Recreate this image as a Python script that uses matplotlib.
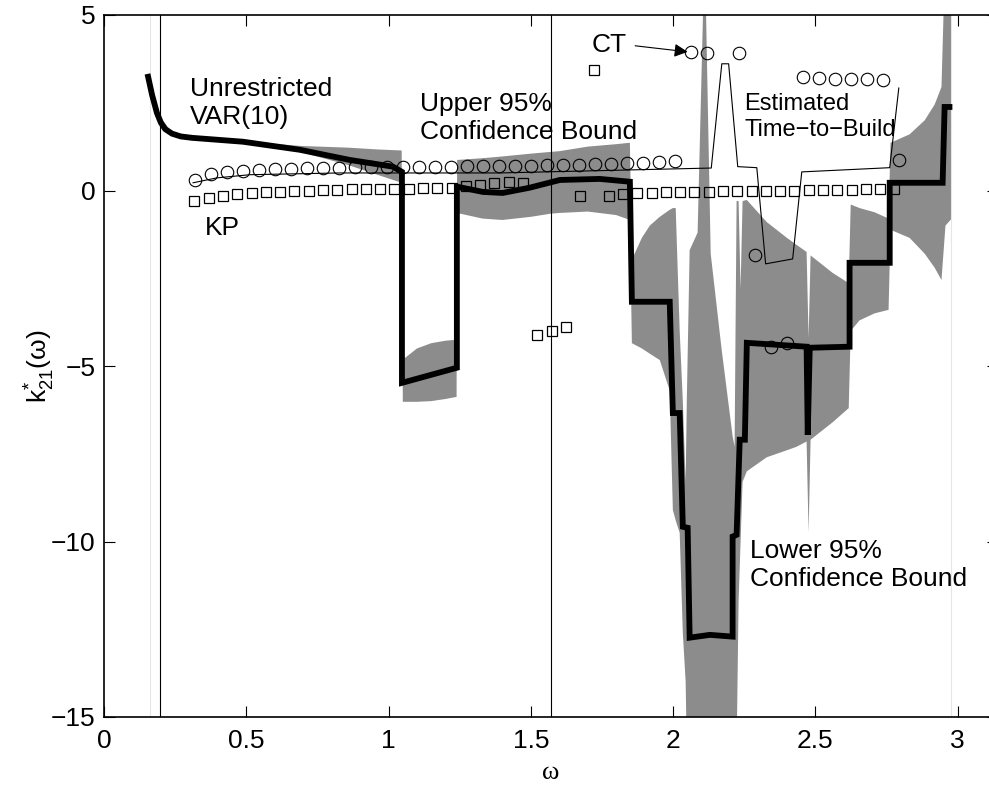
import numpy as np
import matplotlib
matplotlib.use("Agg")
import matplotlib.pyplot as plt

plt.rcParams['font.family'] = ['Liberation Sans', 'DejaVu Sans']
plt.rcParams['mathtext.fontset'] = 'custom'
plt.rcParams['mathtext.rm'] = 'Liberation Sans'
plt.rcParams['mathtext.it'] = 'Liberation Sans'

# unrestricted VAR(10) estimate (thick line)
var_w = [0.155, 0.169, 0.186, 0.200, 0.215, 0.239, 0.270, 0.310, 0.488, 0.688, 0.864, 1.015, 1.047,
         1.047, 1.240, 1.240, 1.331, 1.401, 1.496, 1.602, 1.742, 1.848,
         1.855, 1.988, 1.999, 2.023, 2.034, 2.051, 2.058, 2.129, 2.209,
         2.209, 2.223, 2.234, 2.252, 2.259, 2.469, 2.473, 2.480, 2.620,
         2.620, 2.761, 2.761, 2.947, 2.954, 2.971]
var_k = [3.24, 2.72, 2.21, 1.93, 1.75, 1.62, 1.54, 1.50, 1.39, 1.16, 0.87, 0.68, 0.53,
         -5.48, -5.05, 0.11, -0.04, -0.07, 0.08, 0.30, 0.33, 0.25,
         -3.17, -3.17, -6.34, -6.34, -9.58, -9.61, -12.74, -12.66, -12.71,
         -9.86, -9.81, -7.10, -7.10, -4.34, -4.45, -6.96, -4.48, -4.45,
         -2.06, -2.06, 0.22, 0.22, 2.38, 2.38]

# 95% confidence band (upper / lower bound)
band_w = [0.155, 0.186, 0.239, 0.310, 0.49, 0.69, 0.86, 0.96, 1.046,
          1.050, 1.10, 1.15, 1.20, 1.239,
          1.241, 1.33, 1.40, 1.50, 1.57, 1.60, 1.70, 1.80, 1.848,
          1.855, 1.890, 1.918, 1.953, 1.988, 1.999, 2.009, 2.023, 2.034, 2.044,
          2.048, 2.058, 2.086, 2.111, 2.132, 2.170, 2.209, 2.216, 2.223, 2.230,
          2.237, 2.244, 2.259, 2.329, 2.400, 2.434, 2.469, 2.476, 2.483, 2.561,
          2.617, 2.624, 2.655, 2.708, 2.757, 2.764, 2.831, 2.884, 2.919, 2.943,
          2.957, 2.979]
band_hi = [3.26, 2.23, 1.64, 1.52, 1.40, 1.27, 1.22, 1.17, 1.14,
           -4.82, -4.50, -4.35, -4.28, -4.25,
           0.87, 0.92, 0.97, 1.05, 1.10, 1.12, 1.25, 1.32, 1.36,
           -1.97, -1.35, -1.00, -0.75, -0.55, -0.50, -0.50, -4.00, -6.00, -8.30,
           -6.00, -1.70, -1.20, 7.00, -1.80, -4.50, -7.00, -7.30, -0.30, -0.30,
           -2.80, -0.30, -0.27, -0.90, -1.35, -1.55, -1.75, -4.20, -1.85, -2.35,
           -2.64, -0.40, -0.50, -0.62, -0.80, 1.36, 1.60, 2.00, 2.45, 2.95,
           7.00, 7.00]
band_lo = [3.22, 2.19, 1.60, 1.48, 1.38, 1.10, 0.72, 0.45, 0.22,
           -6.02, -6.02, -6.00, -5.94, -5.88,
           -0.64, -0.80, -0.84, -0.75, -0.66, -0.64, -0.60, -0.70, -0.84,
           -4.35, -4.50, -4.65, -4.83, -5.70, -9.10, -9.40, -9.75, -12.60, -14.00,
           -16.00, -16.00, -16.00, -16.00, -16.00, -16.00, -16.00, -16.00, -16.00, -11.70,
           -10.00, -8.30, -8.00, -7.60, -7.40, -7.30, -7.15, -9.75, -7.10, -6.60,
           -6.20, -4.00, -3.70, -3.50, -3.40, -1.12, -1.35, -1.80, -2.20, -2.55,
           -1.00, -0.80]

# estimated time-to-build (thin line)
ttb_w = [0.313, 0.397, 0.513, 0.829, 1.391, 2.134, 2.171, 2.195, 2.227, 2.294,
         2.325, 2.420, 2.452, 2.761, 2.793]
ttb_k = [0.22, 0.36, 0.45, 0.50, 0.50, 0.64, 3.61, 3.61, 0.68, 0.65,
         -2.09, -1.95, 0.53, 0.65, 2.92]

# CT (circles)
ct_w0, ct_dw = 0.32, 0.0562
ct_k = [0.30, 0.47, 0.52, 0.55, 0.58, 0.60, 0.62, 0.63, 0.64, 0.65,
        0.66, 0.66, 0.67, 0.67, 0.68, 0.68, 0.68, 0.69, 0.69, 0.70,
        0.70, 0.71, 0.72, 0.73, 0.74, 0.75, 0.76, 0.77, 0.79, 0.82,
        0.85, 3.95, 3.93, np.nan, 3.91, -1.83, -4.46, -4.35, 3.22, 3.20,
        3.19, 3.18, 3.17, 3.15, 0.87]

# KP (squares)
kp_w0, kp_dw = 0.318, 0.0502
kp_k = [-0.31, -0.22, -0.15, -0.09, -0.06, -0.05, -0.03, -0.01, 0.00, 0.01,
        0.02, 0.03, 0.04, 0.04, 0.05, 0.05, 0.06, 0.07, 0.08, 0.12,
        0.15, 0.22, 0.25, 0.21, -4.11, -3.99, -3.90, -0.17, 3.42, -0.15,
        -0.09, -0.07, -0.06, -0.05, -0.03, -0.03, -0.03, -0.02, -0.02, -0.01,
        -0.01, 0.00, 0.00, 0.01, 0.01, 0.02, 0.02, 0.03, 0.03, 0.03]

# business cycle frequencies
bc_lines = [2 * np.pi / 32, 2 * np.pi / 4]

ct_w = ct_w0 + ct_dw * np.arange(len(ct_k))
kp_w = kp_w0 + kp_dw * np.arange(len(kp_k))

fig = plt.figure(figsize=(9.89, 7.89), dpi=100)
ax = fig.add_axes([104 / 989, 72 / 789, (998 - 104) / 989, (717 - 15) / 789])

ax.fill_between(band_w, band_lo, band_hi, color='#8c8c8c', lw=0)
for w in [0.163, 2.978]:
    ax.axvline(w, color='#e6e6e6', lw=0.8)
for w in bc_lines:
    ax.axvline(w, color='k', lw=0.8)

ax.plot(ttb_w, ttb_k, color='k', lw=0.8)
ax.plot(var_w, var_k, color='k', lw=4.2, solid_joinstyle='miter')
ax.plot(ct_w, ct_k, 'o', mfc='none', mec='k', ms=9, mew=0.8)
ax.plot(kp_w, kp_k, 's', mfc='none', mec='k', ms=7, mew=0.9)

fs = 19
ls = 1.2
ax.text(0.302, 2.50, 'Unrestricted\nVAR(10)', fontsize=fs, va='center', linespacing=ls)
ax.text(0.355, -1.06, 'KP', fontsize=fs, va='center')
ax.text(1.11, 2.06, 'Upper 95%\nConfidence Bound', fontsize=fs, va='center', linespacing=ls)
ax.text(2.25, 2.10, 'Estimated\nTime\u2212to\u2212Build', fontsize=17, va='center', linespacing=1.25)
ax.text(2.27, -10.66, 'Lower 95%\nConfidence Bound', fontsize=fs, va='center', linespacing=ls)
ax.annotate('CT', xy=(2.051, 3.95), xytext=(1.714, 4.15), fontsize=fs, va='center',
            arrowprops=dict(arrowstyle='-|>', color='k', lw=0.8, mutation_scale=20,
                            shrinkA=4, shrinkB=0, relpos=(1.0, 0.5)))

ax.set_xlim(0, np.pi)
ax.set_ylim(-15, 5)
ax.set_xticks([0, 0.5, 1, 1.5, 2, 2.5, 3])
ax.set_xticklabels(['0', '0.5', '1', '1.5', '2', '2.5', '3'])
ax.set_yticks([-15, -10, -5, 0, 5])
ax.set_yticklabels(['\u221215', '\u221210', '\u22125', '0', '5'])
ax.tick_params(direction='in', length=8, width=0.8, top=True, right=True, labelsize=fs)
ax.tick_params(axis='x', pad=9)
ax.tick_params(axis='y', pad=6)
for s in ax.spines.values():
    s.set_linewidth(1.2)
ax.set_xlabel('\u03c9', fontsize=fs, family=['Liberation Serif', 'DejaVu Serif'], labelpad=6)
ax.set_ylabel(r'$\mathrm{k}^{*}_{21}(\omega)$', fontsize=fs, labelpad=-4)

fig.savefig('out.png', dpi=100)
